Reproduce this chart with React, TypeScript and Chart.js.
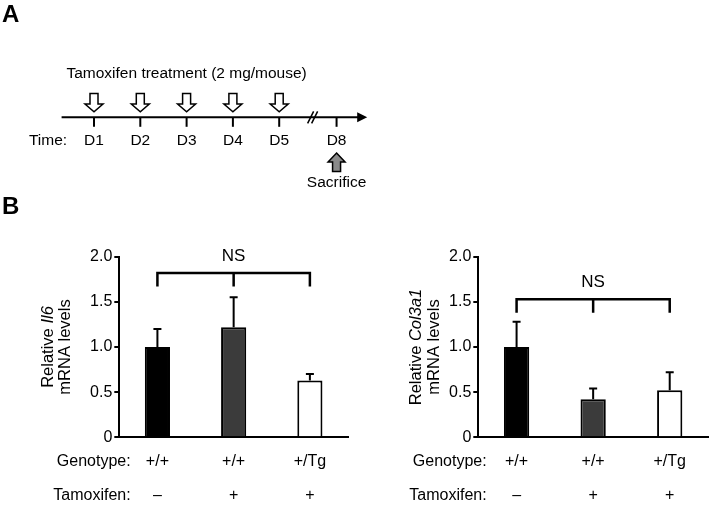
import React, { useEffect, useRef } from "react";
import { Chart, registerables } from "chart.js";
Chart.register(...registerables);

const FONT = "'Liberation Sans', Arial, Helvetica, sans-serif";

// ---------- Panel A: timeline ----------
const timelineLabels = ["D1", "D2", "D3", "D4", "D5", "D8"];
const timelineDays = [1, 2, 3, 4, 5, 8];
const treatmentDays = [1, 2, 3, 4, 5];
const sacrificeDay = 8;
const treatmentText = "Tamoxifen treatment (2 mg/mouse)";
const axisStartDay = 0.3;
const axisEndDay = 9.6;
const breakDay = 6.8;
const afterBreakScale = 0.413; // compression of days after the axis break

// ---------- Panel B: bar charts ----------
const genotypes = ["+/+", "+/+", "+/Tg"];
const tamoxifen = ["\u2013", "+", "+"];
const barColors = ["#000000", "#3b3b3b", "#ffffff"];
const yTicks = [0, 0.5, 1.0, 1.5, 2.0];

const il6Means = [1.0, 1.22, 0.63];
const il6Sem = [0.2, 0.33, 0.07];
const il6Bracket = 1.82;

const col3a1Means = [1.0, 0.42, 0.52];
const col3a1Sem = [0.28, 0.12, 0.2];
const col3a1Bracket = 1.53;

const bracketLeg = 0.15;
const sigLabel = "NS";

function posOf(day: number) {
  return day <= 5 ? day : 5 + (day - 5) * afterBreakScale;
}

function ChartCanvas({ left, top, width, height, build }: any) {
  const ref = useRef<HTMLCanvasElement>(null);
  useEffect(() => {
    const chart = new Chart(ref.current as HTMLCanvasElement, build());
    return () => chart.destroy();
  }, []);
  return (
    <canvas
      ref={ref}
      width={width}
      height={height}
      style={{ position: "absolute", left, top, width, height }}
    />
  );
}

const timelinePlugin = {
  id: "timeline",
  afterDraw(chart: any) {
    const ctx = chart.ctx;
    const xs = chart.scales.x;
    const ys = chart.scales.y;
    const px = (d: number) => xs.getPixelForValue(posOf(d));
    const py = (v: number) => ys.getPixelForValue(v);
    const lineY = py(117.3);
    ctx.save();
    ctx.fillStyle = "#000";
    ctx.strokeStyle = "#000";

    // Panel letters
    ctx.font = `bold 24px ${FONT}`;
    ctx.textAlign = "left";
    ctx.textBaseline = "middle";
    ctx.fillText("A", 2, py(15.5));
    ctx.fillText("B", 2, py(207.5));

    // main axis line
    const x0 = px(axisStartDay);
    const x1 = px(axisEndDay);
    ctx.lineWidth = 2;
    ctx.beginPath();
    ctx.moveTo(x0, lineY);
    ctx.lineTo(x1 - 6, lineY);
    ctx.stroke();
    ctx.beginPath();
    ctx.moveTo(x1, lineY);
    ctx.lineTo(x1 - 10, lineY - 5);
    ctx.lineTo(x1 - 10, lineY + 5);
    ctx.closePath();
    ctx.fill();

    // axis break
    const bx = px(breakDay);
    ctx.lineWidth = 1.5;
    ctx.beginPath();
    ctx.moveTo(bx - 6, lineY + 6);
    ctx.lineTo(bx, lineY - 6);
    ctx.moveTo(bx - 2, lineY + 6);
    ctx.lineTo(bx + 4, lineY - 6);
    ctx.stroke();

    // ticks + labels
    ctx.lineWidth = 2;
    ctx.font = `15.5px ${FONT}`;
    ctx.textAlign = "center";
    timelineDays.forEach((d, i) => {
      const x = px(d);
      ctx.beginPath();
      ctx.moveTo(x, lineY);
      ctx.lineTo(x, lineY + 9.5);
      ctx.stroke();
      ctx.fillText(timelineLabels[i], x, py(141));
    });
    ctx.textAlign = "right";
    ctx.fillText("Time:", x0 + 5.5, py(141));

    // treatment text
    ctx.textAlign = "center";
    ctx.fillText(treatmentText, px(3), py(74));

    // open down arrows
    ctx.lineWidth = 1.5;
    treatmentDays.forEach((d) => {
      const x = px(d);
      const t = py(93.5), h = py(104), tip = py(111.7);
      ctx.beginPath();
      ctx.moveTo(x - 4, t);
      ctx.lineTo(x + 4, t);
      ctx.lineTo(x + 4, h);
      ctx.lineTo(x + 9, h);
      ctx.lineTo(x, tip);
      ctx.lineTo(x - 9, h);
      ctx.lineTo(x - 4, h);
      ctx.closePath();
      ctx.fillStyle = "#fff";
      ctx.fill();
      ctx.stroke();
    });

    // sacrifice arrow (up, gray)
    const sx = px(sacrificeDay);
    const tip = py(153), hb = py(162), bot = py(171.5);
    ctx.beginPath();
    ctx.moveTo(sx, tip);
    ctx.lineTo(sx + 8.5, hb);
    ctx.lineTo(sx + 4, hb);
    ctx.lineTo(sx + 4, bot);
    ctx.lineTo(sx - 4, bot);
    ctx.lineTo(sx - 4, hb);
    ctx.lineTo(sx - 8.5, hb);
    ctx.closePath();
    ctx.fillStyle = "#8a8a8a";
    ctx.fill();
    ctx.stroke();
    ctx.fillStyle = "#000";
    ctx.fillText("Sacrifice", sx, py(183));
    ctx.restore();
  },
};

function timelineConfig(): any {
  return {
    type: "scatter",
    data: {
      datasets: [
        { data: treatmentDays.map((d) => ({ x: posOf(d), y: 100 })), pointRadius: 0 },
      ],
    },
    options: {
      responsive: false,
      animation: false,
      layout: { padding: { left: 47.7, right: 337.2, top: 0, bottom: 0 } },
      plugins: { legend: { display: false }, tooltip: { enabled: false } },
      scales: {
        x: { type: "linear", display: false, min: 0, max: 7 },
        y: { type: "linear", display: false, min: 0, max: 230, reverse: true },
      },
    },
    plugins: [timelinePlugin],
  };
}

const TICK_SIZE = 16;
const LINE_H = 2.14;
const TICK_PAD = 7;

function barConfig(p: any): any {
  const plugin = {
    id: "extras",
    afterDatasetsDraw(chart: any) {
      const ctx = chart.ctx;
      const xs = chart.scales.x;
      const ys = chart.scales.y;
      const meta = chart.getDatasetMeta(0);
      ctx.save();
      ctx.strokeStyle = "#000";
      ctx.fillStyle = "#000";
      // error bars (upper)
      ctx.lineWidth = 2;
      meta.data.forEach((bar: any, i: number) => {
        const top = ys.getPixelForValue(p.means[i]);
        const et = ys.getPixelForValue(p.means[i] + p.sem[i]);
        ctx.beginPath();
        ctx.moveTo(bar.x, top);
        ctx.lineTo(bar.x, et);
        ctx.moveTo(bar.x - 4, et);
        ctx.lineTo(bar.x + 4, et);
        ctx.stroke();
      });
      // bracket
      const by = ys.getPixelForValue(p.bracket);
      const ly = ys.getPixelForValue(p.bracket - bracketLeg);
      const bx0 = xs.getPixelForValue(0);
      const bx1 = xs.getPixelForValue(1);
      const bx2 = xs.getPixelForValue(2);
      ctx.lineWidth = 2.5;
      ctx.beginPath();
      ctx.moveTo(bx0, ly);
      ctx.lineTo(bx0, by);
      ctx.lineTo(bx2, by);
      ctx.lineTo(bx2, ly);
      ctx.moveTo(bx1, by);
      ctx.lineTo(bx1, ly);
      ctx.stroke();
      ctx.font = `17px ${FONT}`;
      ctx.textAlign = "center";
      ctx.textBaseline = "middle";
      ctx.fillText(sigLabel, bx1, by - 16.5);

      // row headers
      const L = TICK_SIZE * LINE_H;
      const r1 = xs.top + TICK_PAD + L / 2;
      ctx.font = `${TICK_SIZE}px ${FONT}`;
      ctx.textAlign = "right";
      ctx.fillText("Genotype:", chart.chartArea.left + p.headerOffset, r1);
      ctx.fillText("Tamoxifen:", chart.chartArea.left + p.headerOffset, r1 + L);

      // y-axis title (two rotated lines, gene name italic)
      const cy = (chart.chartArea.top + chart.chartArea.bottom) / 2;
      const drawRot = (x: number, parts: [string, boolean][]) => {
        ctx.save();
        ctx.translate(x, cy);
        ctx.rotate(-Math.PI / 2);
        ctx.textAlign = "left";
        let total = 0;
        parts.forEach(([t, it]) => {
          ctx.font = `${it ? "italic " : ""}16.5px ${FONT}`;
          total += ctx.measureText(t).width;
        });
        let cx = -total / 2;
        parts.forEach(([t, it]) => {
          ctx.font = `${it ? "italic " : ""}16.5px ${FONT}`;
          ctx.fillText(t, cx, 0);
          cx += ctx.measureText(t).width;
        });
        ctx.restore();
      };
      drawRot(p.titleX1, [["Relative ", false], [p.gene, true]]);
      drawRot(p.titleX2, [["mRNA levels", false]]);
      ctx.restore();
    },
  };
  return {
    type: "bar",
    data: {
      labels: genotypes.map((g, i) => [g, tamoxifen[i]]),
      datasets: [
        {
          data: p.means,
          backgroundColor: barColors,
          borderColor: "#000",
          borderWidth: 2,
          barPercentage: 0.33,
          categoryPercentage: 1,
        },
      ],
    },
    options: {
      responsive: false,
      animation: false,
      layout: { padding: { top: 26.7, right: p.rightPad, left: 0, bottom: 0 } },
      plugins: { legend: { display: false }, tooltip: { enabled: false } },
      scales: {
        x: {
          grid: { display: false, drawTicks: false },
          border: { display: true, color: "#000", width: 2 },
          ticks: {
            color: "#000",
            font: { family: FONT, size: TICK_SIZE, lineHeight: LINE_H },
            padding: TICK_PAD,
            maxRotation: 0,
            autoSkip: false,
          },
          afterFit: (s: any) => {
            s.height = 70.7;
          },
        },
        y: {
          min: yTicks[0],
          max: yTicks[yTicks.length - 1],
          afterBuildTicks: (s: any) => {
            s.ticks = yTicks.map((v) => ({ value: v }));
          },
          ticks: {
            color: "#000",
            font: { family: FONT, size: TICK_SIZE },
            padding: 2,
            callback: (v: any) => (v === 0 ? "0" : Number(v).toFixed(1)),
          },
          grid: {
            drawOnChartArea: false,
            drawTicks: true,
            tickLength: 5,
            color: "#000",
            lineWidth: 2,
          },
          border: { display: true, color: "#000", width: 2 },
          afterFit: (s: any) => {
            s.width = p.axisLeft;
          },
        },
      },
    },
    plugins: [plugin],
  };
}

export default function App() {
  return (
    <div
      style={{
        position: "absolute",
        left: 0,
        top: 0,
        width: 709,
        height: 508,
        background: "#fff",
        overflow: "hidden",
      }}
    >
      <ChartCanvas left={0} top={0} width={709} height={230} build={timelineConfig} />
      <ChartCanvas
        left={0}
        top={230}
        width={354}
        height={278}
        build={() =>
          barConfig({
            means: il6Means,
            sem: il6Sem,
            bracket: il6Bracket,
            gene: "Il6",
            axisLeft: 119.3,
            rightPad: 6,
            titleX1: 48.5,
            titleX2: 65.5,
            headerOffset: 11.4,
          })
        }
      />
      <ChartCanvas
        left={354}
        top={230}
        width={355}
        height={278}
        build={() =>
          barConfig({
            means: col3a1Means,
            sem: col3a1Sem,
            bracket: col3a1Bracket,
            gene: "Col3a1",
            axisLeft: 124.3,
            rightPad: 1,
            titleX1: 62,
            titleX2: 80.5,
            headerOffset: 8.4,
          })
        }
      />
    </div>
  );
}
